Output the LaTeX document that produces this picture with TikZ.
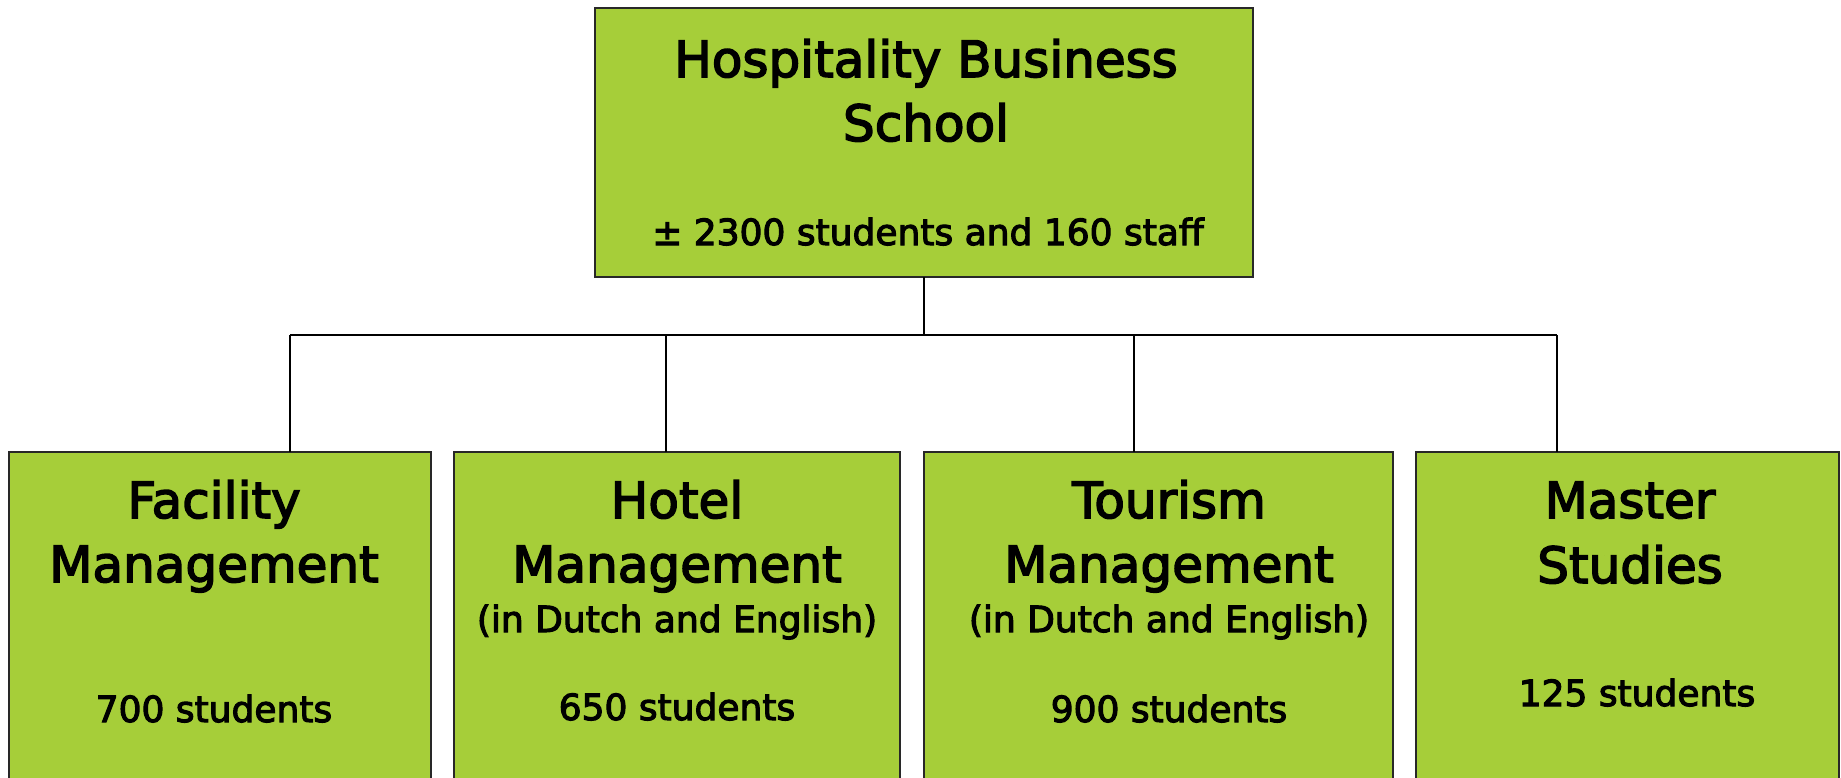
\documentclass[tikz,border=0pt]{standalone}
\usepackage{fontspec}
\setmainfont{DejaVu Sans}[FakeBold=3]
\newfontfamily\boxfont{DejaVu Sans}[FakeBold=3]
\definecolor{boxgreen}{RGB}{166,206,57}
\definecolor{edge}{RGB}{40,40,40}
\tikzset{
  unitbox/.style={draw=edge, line width=1.5pt, fill=boxgreen, rectangle, inner sep=0pt, outer sep=0pt, anchor=north west},
  bigtext/.style={anchor=base, inner sep=0pt, font=\boxfont\fontsize{50}{60}\selectfont},
  smalltext/.style={anchor=base, inner sep=0pt, font=\boxfont\fontsize{36}{43}\selectfont},
  link/.style={draw=black, line width=1.5pt}
}
\begin{document}
\begin{tikzpicture}[x=1pt,y=-1pt]
\useasboundingbox (0,0) rectangle (1841,777);
\clip (0,0) rectangle (1841,777);
% boxes
\node[unitbox, minimum width=658pt, minimum height=269pt] (top) at (595,8) {};
\node[unitbox, minimum width=422pt, minimum height=360pt] (b1) at (9,452) {};
\node[unitbox, minimum width=446pt, minimum height=360pt] (b2) at (454,452) {};
\node[unitbox, minimum width=469pt, minimum height=360pt] (b3) at (924,452) {};
\node[unitbox, minimum width=423pt, minimum height=360pt] (b4) at (1416,452) {};
% connectors
\coordinate (bus) at (924,335);
\coordinate (d1) at (290,452);
\coordinate (d2) at (666,452);
\coordinate (d3) at (1134,452);
\coordinate (d4) at (1557,452);
\draw[link] (top.south) -- (top.south |- bus);
\draw[link] (bus -| d1) -- (bus -| d4);
\draw[link] (bus -| d1) -- (d1);
\draw[link] (bus -| d2) -- (d2);
\draw[link] (bus -| d3) -- (d3);
\draw[link] (bus -| d4) -- (d4);
% top texts
\node[bigtext] (t1) at (926,77) {Hospitality Business};
\node[bigtext] (t2) at (926,141) {School};
\node[smalltext] (t3) at (928,245) {± 2300 students and 160 staff};
% box 1
\node[bigtext] (f1) at (214,518) {Facility};
\node[bigtext] (f2) at (214,582) {Management};
\node[smalltext] (f3) at (214,722) {700 students};
% box 2
\node[bigtext] (h1) at (677,518) {Hotel};
\node[bigtext] (h2) at (677,582) {Management};
\node[smalltext] (h3) at (677,632) {(in Dutch and English)};
\node[smalltext] (h4) at (677,720) {650 students};
% box 3
\node[bigtext] (r1) at (1169,518) {Tourism};
\node[bigtext] (r2) at (1169,582) {Management};
\node[smalltext] (r3) at (1169,632) {(in Dutch and English)};
\node[smalltext] (r4) at (1169,722) {900 students};
% box 4
\node[bigtext] (m1) at (1630,518) {Master};
\node[bigtext] (m2) at (1630,583) {Studies};
\node[smalltext] (m3) at (1637,706) {125 students};
\end{tikzpicture}
\end{document}
